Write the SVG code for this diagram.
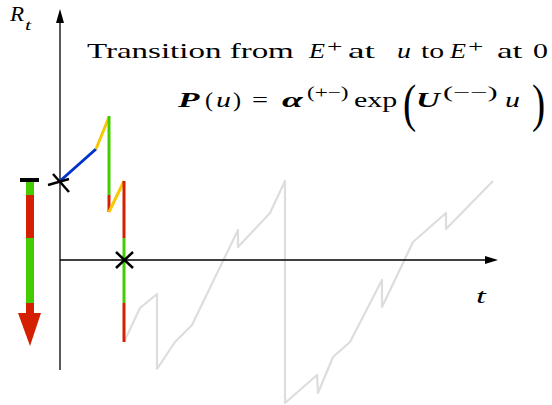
<svg xmlns="http://www.w3.org/2000/svg" width="552" height="405" viewBox="0 0 552 405">
<style>
text{font-family:"Liberation Serif","Times New Roman",serif;fill:#000}
.t{font-size:22px}
.it{font-style:italic}
.bi{font-style:italic;font-weight:bold}
.ax{stroke:#000;stroke-width:1.3;fill:none}
.g{stroke:#44cc00}
.r{stroke:#d42000}
.y{stroke:#f8c800}
.b{stroke:#0033cc}
.seg{stroke-width:3;fill:none}
.x{stroke:#000;stroke-width:2.5;fill:none}
</style>
<rect width="552" height="405" fill="#fff"/>
<g id="path-grey">
<polyline points="124,342 140,308 157,294 157,369 175,342 192,325 238,230 238,247 270,213 285,181 285,403 317,375 318,393 333,357 350,342 382,280 382,307 413,242 446,213 446,229 493,181" fill="none" stroke="#dddddd" stroke-width="2.2" stroke-linejoin="round"/>
</g>
<g id="axes">
<line class="ax" x1="60" y1="370" x2="60" y2="22"/>
<polygon points="60,9 56,23 64,23" fill="#000"/>
<line class="ax" x1="60" y1="260" x2="486" y2="260"/>
<polygon points="498,260 485,256 485,264" fill="#000"/>
<text class="it" font-size="20" transform="matrix(1.15 0 0 1 10 21)">R</text>
<text class="it" font-size="14" transform="matrix(1.6 0 0 1 25 30)">t</text>
<text class="t it" transform="matrix(1.6 0 0 1 476 303)">t</text>
</g>
<g id="connectors">
<line class="seg b" x1="60" y1="181" x2="96" y2="149"/>
<line class="seg y" x1="96" y1="149" x2="109" y2="117"/>
<line class="seg g" x1="109" y1="116" x2="109" y2="195"/>
<line class="seg r" x1="109" y1="195" x2="109" y2="212"/>
<line class="seg y" x1="109" y1="212" x2="124" y2="181"/>
<line class="seg r" x1="124" y1="181" x2="124" y2="238"/>
<line class="seg g" x1="124" y1="238" x2="124" y2="303"/>
<line class="seg r" x1="124" y1="303" x2="124" y2="342"/>
</g>
<g id="cross-start">
<line class="x" x1="48" y1="185" x2="69" y2="179"/>
<line class="x" x1="53" y1="174" x2="69" y2="192"/>
</g>
<g id="cross-end">
<line class="x" x1="116" y1="252" x2="133" y2="268"/>
<line class="x" x1="116" y1="268" x2="133" y2="252"/>
</g>
<g id="level-arrow">
<line x1="20" y1="180" x2="39" y2="180" stroke="#000" stroke-width="4"/>
<line x1="30" y1="182" x2="30" y2="195" stroke="#44cc00" stroke-width="8"/>
<line x1="30" y1="195" x2="30" y2="238" stroke="#d42000" stroke-width="8"/>
<line x1="30" y1="238" x2="30" y2="303" stroke="#44cc00" stroke-width="8"/>
<line x1="30" y1="303" x2="30" y2="314" stroke="#d42000" stroke-width="8"/>
<polygon points="18,313 41,313 30,346" fill="#d42000"/>
</g>
<g id="title">
<text class="t" transform="matrix(1.5 0 0 1 87 58)">Transition from</text>
<text class="t it" transform="matrix(1.19 0 0 1 309 58)">E</text>
<text font-size="17" transform="matrix(1.6 0 0 1 327 52)">+</text>
<text class="t" transform="matrix(1.7 0 0 1 348 58)">at</text>
<text class="t it" transform="matrix(1.27 0 0 1 397 58)">u</text>
<text class="t" transform="matrix(1.35 0 0 1 421 58)">to</text>
<text class="t it" transform="matrix(1.19 0 0 1 450 58)">E</text>
<text font-size="17" transform="matrix(1.6 0 0 1 468 52)">+</text>
<text class="t" transform="matrix(1.6 0 0 1 497 58)">at</text>
<text class="t" transform="matrix(1.36 0 0 1 533 58)">0</text>
</g>
<g id="formula">
<text class="t bi" transform="matrix(1.6 0 0 1 178 107)">P</text>
<text class="t" transform="matrix(1.1 0 0 1 205 107)">(</text>
<text class="t it" transform="matrix(1.36 0 0 1 216 107)">u</text>
<text class="t" transform="matrix(1.1 0 0 1 233 107)">)</text>
<text class="t" transform="matrix(1.29 0 0 1 252 107)">=</text>
<text class="t bi" transform="matrix(1.7 0 0 1 282 107)">α</text>
<text font-size="16" transform="matrix(1.45 0 0 1 307 98)">(+−)</text>
<text class="t" transform="matrix(1.36 0 0 1 354 107)">exp</text>
<text font-size="53" transform="matrix(0.75 0 0 1 403 121)">(</text>
<text class="t bi" transform="matrix(1.5 0 0 1 416 107)">U</text>
<text font-size="16" transform="matrix(1.9 0 0 1 443 98)">(−−)</text>
<text class="t it" transform="matrix(1.36 0 0 1 505 107)">u</text>
<text font-size="53" transform="matrix(0.75 0 0 1 532 121)">)</text>
</g>
</svg>
